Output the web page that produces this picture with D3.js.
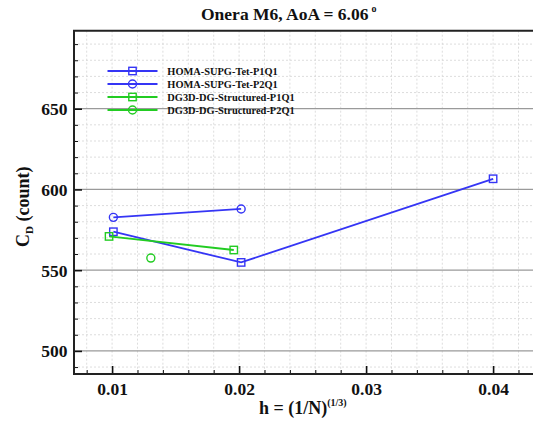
<!DOCTYPE html>
<html>
<head>
<meta charset="utf-8">
<script src="https://cdn.jsdelivr.net/npm/d3@7"></script>
<style>
  html, body { margin: 0; padding: 0; background: #fff; }
  svg { display: block; }
  text { font-family: "Liberation Serif", "Times New Roman", serif; font-weight: bold; fill: #111; }
</style>
</head>
<body>
<svg id="chart" width="533" height="432"></svg>
<script>
// Drag coefficient (counts) versus mesh size h = (1/N)^(1/3)
const xTickValues = [0.01, 0.02, 0.03, 0.04];
const xTickLabels = ["0.01", "0.02", "0.03", "0.04"];
const yTickValues = [500, 550, 600, 650];
const yTickLabels = ["500", "550", "600", "650"];

const seriesNames = [
  "HOMA-SUPG-Tet-P1Q1",
  "HOMA-SUPG-Tet-P2Q1",
  "DG3D-DG-Structured-P1Q1",
  "DG3D-DG-Structured-P2Q1"
];
const seriesColors = ["#3535f5", "#3535f5", "#22cc22", "#22cc22"];
const seriesMarkers = ["square", "circle", "square", "circle"];

const homaP1Q1_h  = [0.0101, 0.02016, 0.0400];
const homaP1Q1_cd = [573.8, 554.8, 606.6];
const homaP2Q1_h  = [0.0101, 0.02016];
const homaP2Q1_cd = [582.7, 587.9];
const dg3dP1Q1_h  = [0.00976, 0.01958];
const dg3dP1Q1_cd = [570.9, 562.5];
const dg3dP2Q1_h  = [0.01305];
const dg3dP2Q1_cd = [557.5];

const seriesH  = [homaP1Q1_h, homaP2Q1_h, dg3dP1Q1_h, dg3dP2Q1_h];
const seriesCd = [homaP1Q1_cd, homaP2Q1_cd, dg3dP1Q1_cd, dg3dP2Q1_cd];

const svg = d3.select("#chart");

const plotLeft = 74, plotTop = 30.7, plotBottom = 374;
const x = d3.scaleLinear().domain([0.007, 0.0435]).range([plotLeft, plotLeft + (0.0435 - 0.007) * 12700]);
const y = d3.scaleLinear().domain([485.7, 698.3]).range([plotBottom, plotTop]);
const plotRight = x.range()[1];

// grid: dashed minor lines in both directions, solid gray majors on y
const xMinor = d3.range(0.008, 0.0435, 0.002);
const yMinor = d3.range(490, 698.3, 10);
const yMinorOnly = yMinor.filter(v => Math.round(v) % 50 !== 0);
const xMinorOnly = xMinor.filter(v => Math.abs(v * 100 - Math.round(v * 100)) > 1e-6);

const grid = svg.append("g");
grid.selectAll("line.vx").data(xMinor).join("line")
  .attr("x1", d => x(d)).attr("x2", d => x(d))
  .attr("y1", plotTop).attr("y2", plotBottom)
  .attr("stroke", "#d4d4d4").attr("stroke-width", 0.8).attr("stroke-dasharray", "2,2");
grid.selectAll("line.hy").data(yMinorOnly).join("line")
  .attr("x1", plotLeft).attr("x2", plotRight)
  .attr("y1", d => y(d)).attr("y2", d => y(d))
  .attr("stroke", "#d4d4d4").attr("stroke-width", 0.8).attr("stroke-dasharray", "2,2");
grid.selectAll("line.hmaj").data(yTickValues).join("line")
  .attr("x1", plotLeft).attr("x2", plotRight)
  .attr("y1", d => y(d)).attr("y2", d => y(d))
  .attr("stroke", "#9a9a9a").attr("stroke-width", 1.2);

// axes with inward ticks
const xAxis = d3.axisBottom(x).tickValues(xTickValues).tickFormat((d, i) => xTickLabels[i]).tickSize(-8).tickPadding(0);
const gx = svg.append("g").attr("transform", `translate(0,${plotBottom})`).call(xAxis);
gx.select(".domain").remove();
gx.selectAll(".tick line").attr("stroke", "#111").attr("stroke-width", 1.6);
gx.selectAll(".tick text").attr("y", 21).attr("dy", 0).attr("font-size", 17.5)
  .attr("font-family", "Liberation Serif, serif").attr("font-weight", "bold").attr("fill", "#111");

const xMinorAxis = d3.axisBottom(x).tickValues(xMinorOnly).tickFormat("").tickSize(-4);
const gxm = svg.append("g").attr("transform", `translate(0,${plotBottom})`).call(xMinorAxis);
gxm.select(".domain").remove();
gxm.selectAll(".tick line").attr("stroke", "#111").attr("stroke-width", 1);

const yAxis = d3.axisLeft(y).tickValues(yTickValues).tickFormat((d, i) => yTickLabels[i]).tickSize(-8).tickPadding(0);
const gy = svg.append("g").attr("transform", `translate(${plotLeft},0)`).call(yAxis);
gy.select(".domain").remove();
gy.selectAll(".tick line").attr("stroke", "#111").attr("stroke-width", 1.6);
gy.selectAll(".tick text").attr("x", -6.5).attr("dy", 6).attr("font-size", 17.5)
  .attr("font-family", "Liberation Serif, serif").attr("font-weight", "bold").attr("fill", "#111");

const yMinorAxis = d3.axisLeft(y).tickValues(yMinorOnly).tickFormat("").tickSize(-4);
const gym = svg.append("g").attr("transform", `translate(${plotLeft},0)`).call(yMinorAxis);
gym.select(".domain").remove();
gym.selectAll(".tick line").attr("stroke", "#111").attr("stroke-width", 1);

// frame
svg.append("path")
  .attr("d", `M${plotRight},${plotTop}H${plotLeft}V${plotBottom}H${plotRight}`)
  .attr("fill", "none").attr("stroke", "#222").attr("stroke-width", 2);

// series lines and markers
const plot = svg.append("g");
const line = d3.line().x(d => x(d[0])).y(d => y(d[1]));

function drawMarker(g, kind, cx, cy, color) {
  if (kind === "square") {
    g.append("rect").attr("x", cx - 3.7).attr("y", cy - 3.7).attr("width", 7.4).attr("height", 7.4)
      .attr("fill", "none").attr("stroke", color).attr("stroke-width", 1.4);
  } else {
    g.append("circle").attr("cx", cx).attr("cy", cy).attr("r", 4)
      .attr("fill", "none").attr("stroke", color).attr("stroke-width", 1.4);
  }
}

seriesNames.forEach((name, i) => {
  const pts = seriesH[i].map((h, j) => [h, seriesCd[i][j]]);
  if (pts.length > 1) {
    plot.append("path").attr("d", line(pts)).attr("fill", "none")
      .attr("stroke", seriesColors[i]).attr("stroke-width", 1.8);
  }
  pts.forEach(p => drawMarker(plot, seriesMarkers[i], x(p[0]), y(p[1]), seriesColors[i]));
});

// legend
const legend = svg.append("g");
seriesNames.forEach((name, i) => {
  const ly = 71 + i * 13;
  legend.append("line").attr("x1", 107.5).attr("x2", 157.5).attr("y1", ly).attr("y2", ly)
    .attr("stroke", seriesColors[i]).attr("stroke-width", 1.8);
  drawMarker(legend, seriesMarkers[i], 132.5, ly, seriesColors[i]);
  legend.append("text").attr("x", 167.3).attr("y", ly + 3.6).attr("font-size", 10.4).text(name);
});

// title
const title = svg.append("text").attr("x", 201).attr("y", 19.5).attr("font-size", 17.5);
title.append("tspan").text("Onera M6, AoA = 6.06");
title.append("tspan").attr("dx", 3).attr("dy", -8).attr("font-size", 10).text("o");

// x-axis title
const xt = svg.append("text").attr("x", 259).attr("y", 413.5).attr("font-size", 18);
xt.append("tspan").text("h = (1/N)");
xt.append("tspan").attr("dy", -8).attr("font-size", 10).text("(1/3)");

// y-axis title
const yt = svg.append("text").attr("transform", "translate(29,247) rotate(-90)").attr("font-size", 18);
yt.append("tspan").text("C");
yt.append("tspan").attr("dy", 4).attr("font-size", 11).text("D");
yt.append("tspan").attr("dy", -4).text(" (count)");
</script>
</body>
</html>
